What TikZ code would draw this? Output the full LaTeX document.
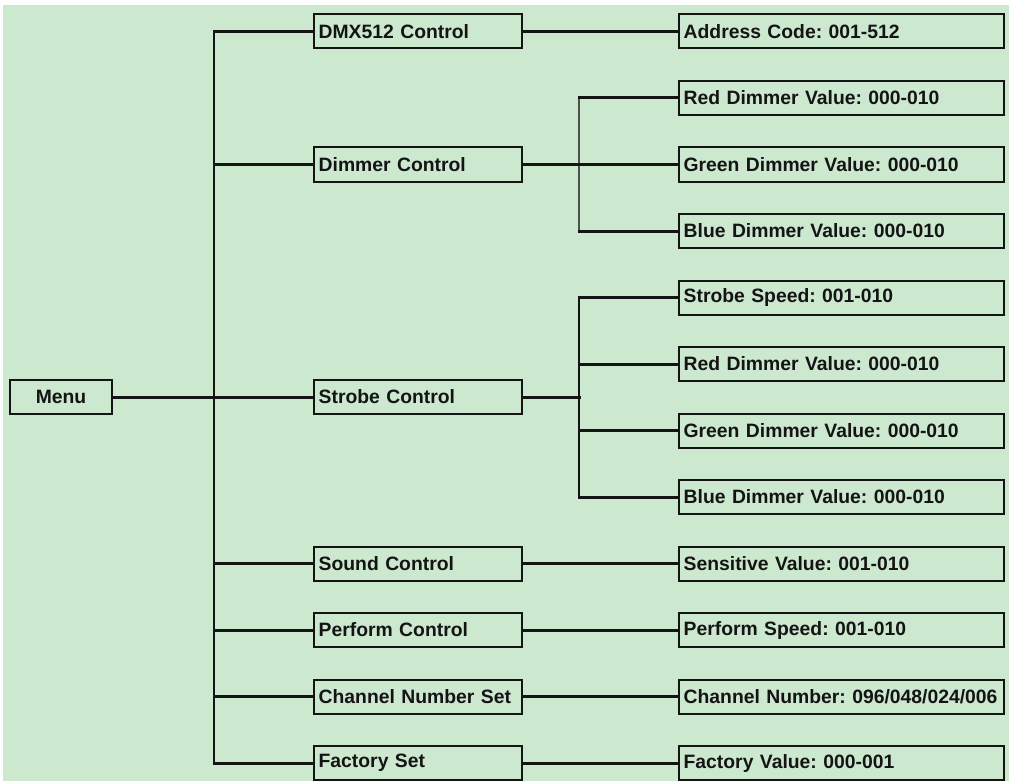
\documentclass[tikz,border=0pt]{standalone}
\usepackage{fontspec}
\setmainfont{Liberation Sans}
\frenchspacing
\definecolor{MenuGreen}{HTML}{CCE8CF}
\definecolor{MenuInk}{HTML}{141414}

\begin{document}
\begin{tikzpicture}[x=0.75pt,y=-0.75pt,line cap=rect,line join=miter,
    font=\bfseries\fontsize{14.5}{17}\selectfont,
    box/.style={draw=MenuInk,line width=1.5pt,fill=MenuGreen,text=MenuInk,
      minimum height=25.5pt,inner xsep=3.5pt,inner ysep=0pt,anchor=west},
    midbox/.style={box,text width=149pt,align=left},
    leafbox/.style={box,text width=236.75pt,align=left},
    wire/.style={MenuInk,line width=2.25pt},
    spine/.style={MenuInk,line width=1.5pt}]
  \useasboundingbox (0,0) rectangle (1009,781);
  \fill[white] (0,0) rectangle (1009,781);
  \fill[MenuGreen] (3,5) rectangle (1009,781);
  % boxes
  \node[box,minimum width=76.5pt] (menu) at (9,397) {Menu};
  \foreach \n/\y/\lab in {1/31.5/DMX512 Control,2/164.5/Dimmer Control,
      3/397/Strobe Control,4/563.5/Sound Control,5/630/Perform Control,
      6/696.5/Channel Number Set,7/763/Factory Set}{
    \node[midbox] (m\n) at (313,\y) {\lab};
  }
  \foreach \n/\lab in {1/{Address Code: 001-512},2/{Red Dimmer Value: 000-010},
      3/{Green Dimmer Value: 000-010},4/{Blue Dimmer Value: 000-010},
      5/{Strobe Speed: 001-010},6/{Red Dimmer Value: 000-010},
      7/{Green Dimmer Value: 000-010},8/{Blue Dimmer Value: 000-010},
      9/{Sensitive Value: 001-010},10/{Perform Speed: 001-010},
      11/{Channel Number: 096/048/024/006},12/{Factory Value: 000-001}}{
    \node[leafbox] (r\n) at (678,{31.5+66.5*(\n-1)}) {\lab};
  }
  % tree lines
  \coordinate (trunk) at (214,397);
  \coordinate (dfork) at (579,164.5);
  \coordinate (sfork) at (579,397);
  \draw[spine] (trunk |- m1.west) -- (trunk |- m7.west);
  \draw[wire] (menu.east) -- (m3.west);
  \foreach \n in {1,2,4,5,6,7}
    \draw[wire] (trunk |- m\n.west) -- (m\n.west);
  \foreach \m/\r in {1/1,4/9,5/10,6/11,7/12}
    \draw[wire] (m\m.east) -- (r\r.west);
  % dimmer branch
  \draw[MenuInk!75,line width=1.2pt] (dfork |- r2.west) -- (dfork |- r4.west);
  \draw[wire] (m2.east) -- (r3.west);
  \draw[wire] (dfork |- r2.west) -- (r2.west);
  \draw[wire] (dfork |- r4.west) -- (r4.west);
  % strobe branch
  \draw[spine] (sfork |- r5.west) -- (sfork |- r8.west);
  \draw[wire] (m3.east) -- (sfork);
  \foreach \r in {5,...,8}
    \draw[wire] (sfork |- r\r.west) -- (r\r.west);
\end{tikzpicture}
\end{document}
